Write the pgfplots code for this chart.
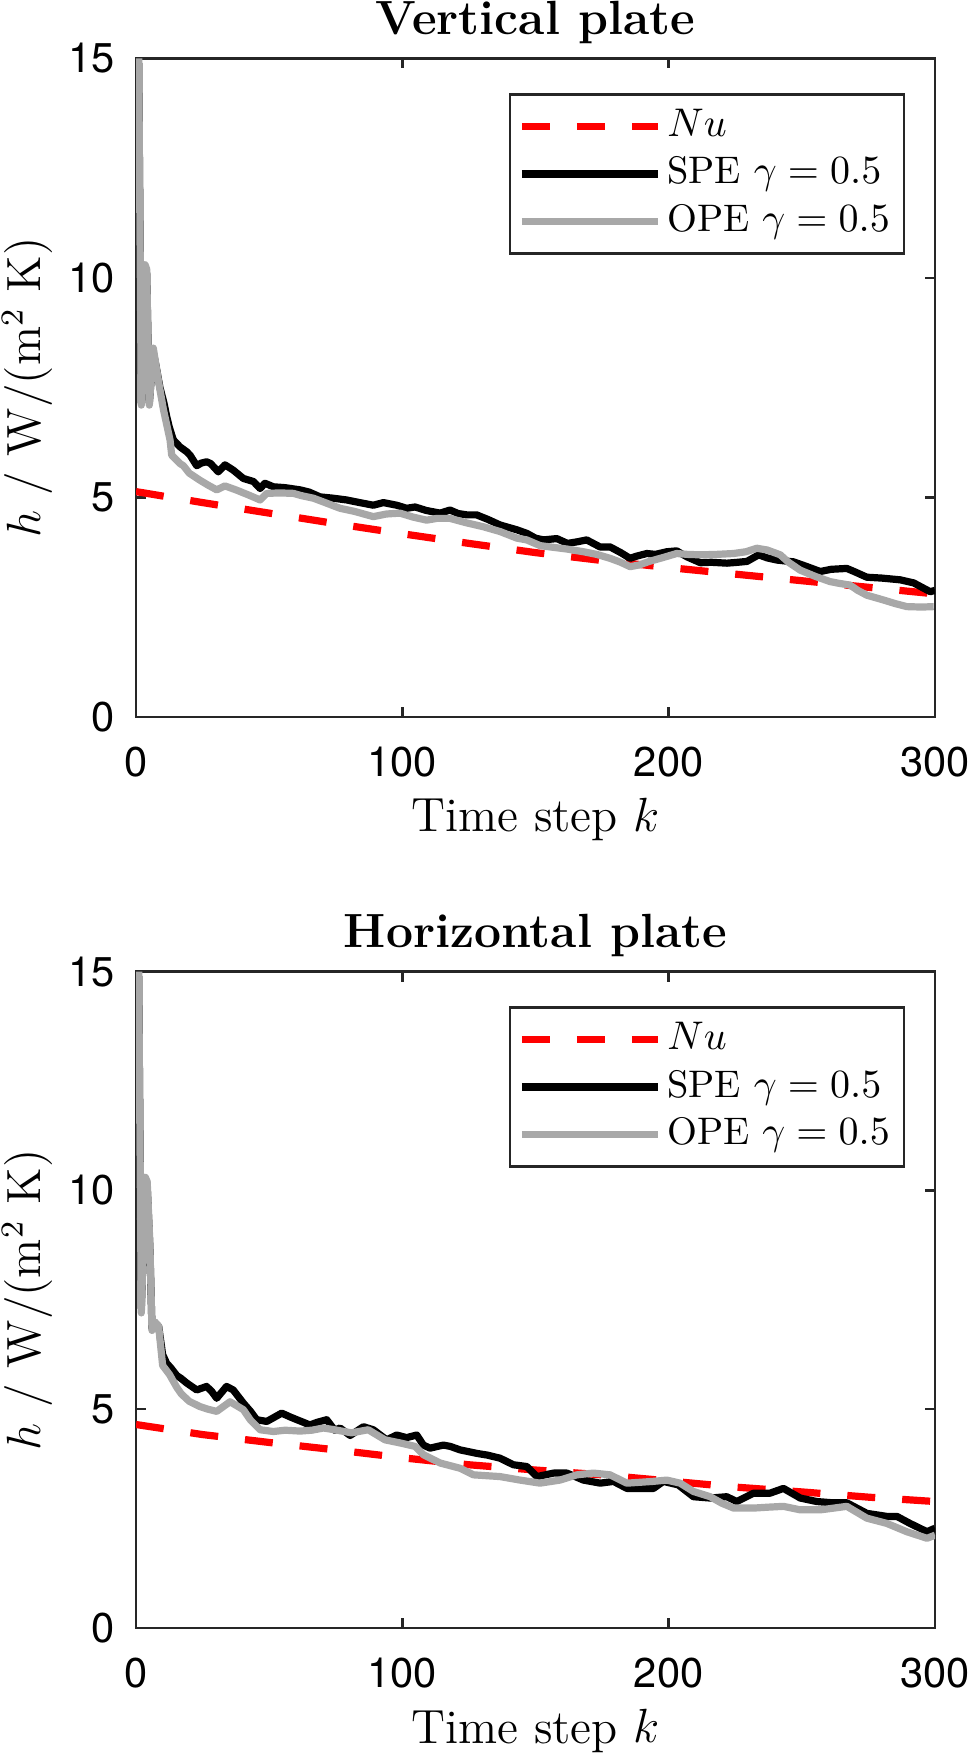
\documentclass[border=0pt]{standalone}
\usepackage{fontspec}
\usepackage{pgfplots}
\pgfplotsset{compat=1.18}
\newfontfamily\heros{TeX Gyre Heros}
\definecolor{opegray}{rgb}{0.66,0.66,0.66}
\definecolor{axgray}{rgb}{0.15,0.15,0.15}
\pgfplotsset{
 legend image code/.code={\draw[#1] (0pt,0pt) -- (34pt,0pt);},
 myaxis/.style={
  scale only axis, width=199.75pt,
  xmin=0,xmax=300,ymin=0,ymax=15,
  xtick={0,100,200,300}, xticklabels={0,100,200,300},
  ytick={0,5,10,15}, yticklabels={0,5,10,15},
  tick pos=both, tick align=inside, major tick length=2.5pt,
  axis line style={axgray, line width=0.6pt},
  every tick/.style={axgray, line width=0.6pt},
  ticklabel style={font=\heros\fontsize{10.4}{12}\selectfont, text=black},
  xticklabel style={yshift=-4pt},
  yticklabel style={xshift=-1.75pt},
  xlabel={Time step $k$},
  ylabel={$h$ / W/(m$^2$ K)},
  label style={font=\fontsize{12}{14}\selectfont},
  xlabel style={at={(axis description cs:0.5,0)}, anchor=base, yshift=-28.75pt},
  ylabel style={at={(axis description cs:-0.1039,0.5)}, anchor=south, inner sep=0pt},
  title style={font=\bfseries\fontsize{12}{14}\selectfont, at={(axis description cs:0.5,1)}, anchor=base},
  legend style={at={(0.9625,0.9469)}, anchor=north east, draw=axgray, line width=0.6pt,
    font=\fontsize{9.6}{11}\selectfont, inner xsep=2pt, inner ysep=2pt,
    nodes={inner xsep=1.5pt, inner ysep=1.25pt, text height=7.2pt, text depth=2.2pt}, row sep=0pt},
  legend cell align=left,
 },
 nu/.style={red, line width=1.8pt, dash pattern=on 7pt off 6.75pt},
 spe/.style={black, line width=1.8pt, line join=round},
 ope/.style={opegray, line width=1.8pt, line join=round},
}
\begin{document}
\begin{tikzpicture}
\useasboundingbox (0,0) rectangle (242.25pt,439pt);
\begin{axis}[myaxis, at={(34pt,259.8pt)}, anchor=south west, height=164.6pt, title={Vertical plate}]
\addplot[nu] coordinates {(0,5.13) (25,4.88) (50,4.64) (75,4.40) (100,4.17) (125,3.95) (150,3.74) (175,3.56) (200,3.40) (225,3.25) (250,3.10) (275,2.95) (300,2.80)};
\addlegendentry{$Nu$}
\addplot[spe] coordinates {(1,14.9) (2,7.15) (3.4,10.2) (4,10.1) (5,7.15) (6.5,8.3) (7.5,8.0) (9,7.5) (10.5,7.15) (11.5,6.85) (12.5,6.6) (14,6.31) (16.5,6.15) (19,6.04) (20.3,5.96) (22.8,5.72) (24.5,5.78) (26.5,5.81) (28,5.77) (30.9,5.58) (33.4,5.74) (36.5,5.62) (40.3,5.43) (44.1,5.36) (46.6,5.20) (48.4,5.32) (51.6,5.24) (56,5.22) (61.6,5.17) (65,5.12) (69.1,5.01) (74,4.98) (79.1,4.94) (84,4.88) (89.1,4.82) (92.9,4.88) (97.9,4.82) (101.6,4.75) (104.8,4.78) (109,4.70) (114.2,4.64) (117.9,4.71) (121,4.63) (124.2,4.60) (127.9,4.60) (132,4.50) (136.7,4.37) (143,4.26) (146.7,4.18) (150,4.07) (153,4.03) (158,4.06) (162,3.95) (166,3.99) (169.2,4.03) (174.2,3.87) (178,3.87) (182,3.74) (185.5,3.61) (188,3.66) (191.8,3.72) (195,3.70) (199.3,3.76) (203,3.78) (207,3.64) (211.9,3.51) (216,3.52) (221.9,3.50) (226,3.52) (229.4,3.54) (233.8,3.69) (237,3.62) (240.7,3.57) (246.9,3.53) (252,3.42) (256.9,3.31) (261,3.36) (266.9,3.38) (270,3.30) (274.4,3.18) (280,3.16) (287,3.12) (292,3.05) (296,2.92) (298.2,2.85) (300,2.88)};
\addlegendentry{SPE $\gamma=0.5$}
\addplot[ope] coordinates {(1,15.0) (2,7.1) (3.4,10.3) (4,10.2) (5,7.1) (6.5,8.4) (7.5,8.0) (9,7.45) (10.3,7.0) (12.8,6.3) (13.4,5.96) (16.5,5.77) (17.8,5.72) (20,5.55) (24,5.39) (27,5.28) (30.3,5.17) (33.4,5.26) (37.5,5.17) (42,5.06) (46.6,4.94) (49.1,5.09) (54,5.10) (59.1,5.09) (62,5.04) (66.6,4.98) (71,4.88) (76.6,4.75) (82,4.68) (89.1,4.56) (94,4.62) (99.1,4.64) (104,4.55) (109.1,4.48) (113,4.52) (117.9,4.52) (124,4.42) (130.4,4.33) (136.7,4.22) (143,4.07) (146.7,4.03) (151.7,3.90) (155.5,3.87) (162,3.82) (168,3.76) (173,3.70) (178,3.61) (182,3.52) (185.5,3.42) (189,3.46) (192.7,3.54) (198,3.63) (203,3.72) (207,3.70) (211.9,3.69) (218,3.70) (224.4,3.72) (229,3.76) (233.1,3.84) (237,3.80) (241.9,3.69) (245,3.52) (249.4,3.34) (255,3.20) (260.6,3.08) (264,3.04) (268.1,3.00) (271,2.88) (274.4,2.77) (280.7,2.66) (285,2.58) (289.4,2.51) (295,2.50) (299.5,2.51)};
\addlegendentry{OPE $\gamma=0.5$}
\end{axis}
\begin{axis}[myaxis, at={(34pt,32pt)}, anchor=south west, height=164.1pt, title={Horizontal plate}]
\addplot[nu] coordinates {(0,4.65) (25,4.42) (50,4.24) (75,4.07) (100,3.89) (125,3.73) (150,3.61) (175,3.50) (200,3.36) (225,3.22) (250,3.11) (275,2.99) (300,2.89)};
\addlegendentry{$Nu$}
\addplot[spe] coordinates {(1,14.9) (2,7.3) (3.5,10.25) (4.2,10.1) (5.2,8.7) (6,6.85) (7,6.95) (8.5,6.9) (10,6.25) (11.5,6.05) (13,5.95) (15.3,5.77) (17,5.70) (19,5.60) (22.8,5.44) (26.5,5.52) (28.5,5.40) (30.3,5.25) (34,5.52) (36.5,5.44) (40.3,5.14) (43,4.95) (45.3,4.76) (49.1,4.72) (54.7,4.91) (58,4.82) (60.4,4.76) (65.3,4.64) (68,4.70) (71.6,4.76) (74.6,4.52) (76.6,4.57) (80.4,4.40) (85.4,4.60) (89.1,4.53) (94.1,4.30) (97.9,4.41) (101.6,4.35) (105.4,4.41) (107.9,4.18) (110.4,4.11) (115.4,4.18) (118,4.15) (121.7,4.07) (128,3.99) (132,3.95) (136.7,3.88) (141.7,3.73) (146.7,3.69) (150.5,3.46) (156.8,3.54) (161.8,3.54) (168,3.38) (174.3,3.31) (179.3,3.35) (184.3,3.19) (188,3.19) (194.3,3.19) (198,3.35) (203.6,3.27) (209.3,3.00) (215.6,2.97) (221.8,3.00) (225.6,2.89) (231.8,3.08) (238,3.08) (243.1,3.19) (249.4,2.97) (255.6,2.89) (261.8,2.86) (266.9,2.86) (274.4,2.62) (281.9,2.55) (285.7,2.55) (290.6,2.39) (297,2.20) (300,2.28)};
\addlegendentry{SPE $\gamma=0.5$}
\addplot[ope] coordinates {(1,15.0) (2,7.2) (3.5,10.3) (4.2,10.2) (5.2,8.8) (6,6.8) (7,7.0) (8.5,6.9) (10,6.0) (12.6,5.79) (15.3,5.50) (17,5.35) (20,5.18) (24,5.06) (27,5.00) (30.3,4.95) (35.3,5.17) (40.3,4.99) (43,4.75) (46.6,4.53) (51.6,4.49) (56,4.52) (61.6,4.50) (66,4.52) (70.4,4.57) (74.6,4.53) (80.9,4.46) (87.2,4.53) (93.5,4.30) (99.8,4.22) (104.8,4.15) (107.9,3.96) (114.2,3.77) (121.7,3.65) (126.7,3.50) (136.7,3.46) (144.2,3.38) (151.7,3.31) (159.2,3.38) (165.5,3.50) (171.8,3.54) (178,3.50) (184.3,3.31) (189.3,3.33) (194,3.35) (199.3,3.38) (204.3,3.31) (209.3,3.12) (215.6,3.00) (220,2.85) (224.4,2.74) (231.8,2.74) (237,2.76) (243.1,2.78) (249.4,2.70) (257,2.70) (262,2.74) (266.9,2.78) (274.4,2.51) (281.9,2.39) (289.4,2.20) (297,2.05) (300,2.12)};
\addlegendentry{OPE $\gamma=0.5$}
\end{axis}
\end{tikzpicture}
\end{document}
